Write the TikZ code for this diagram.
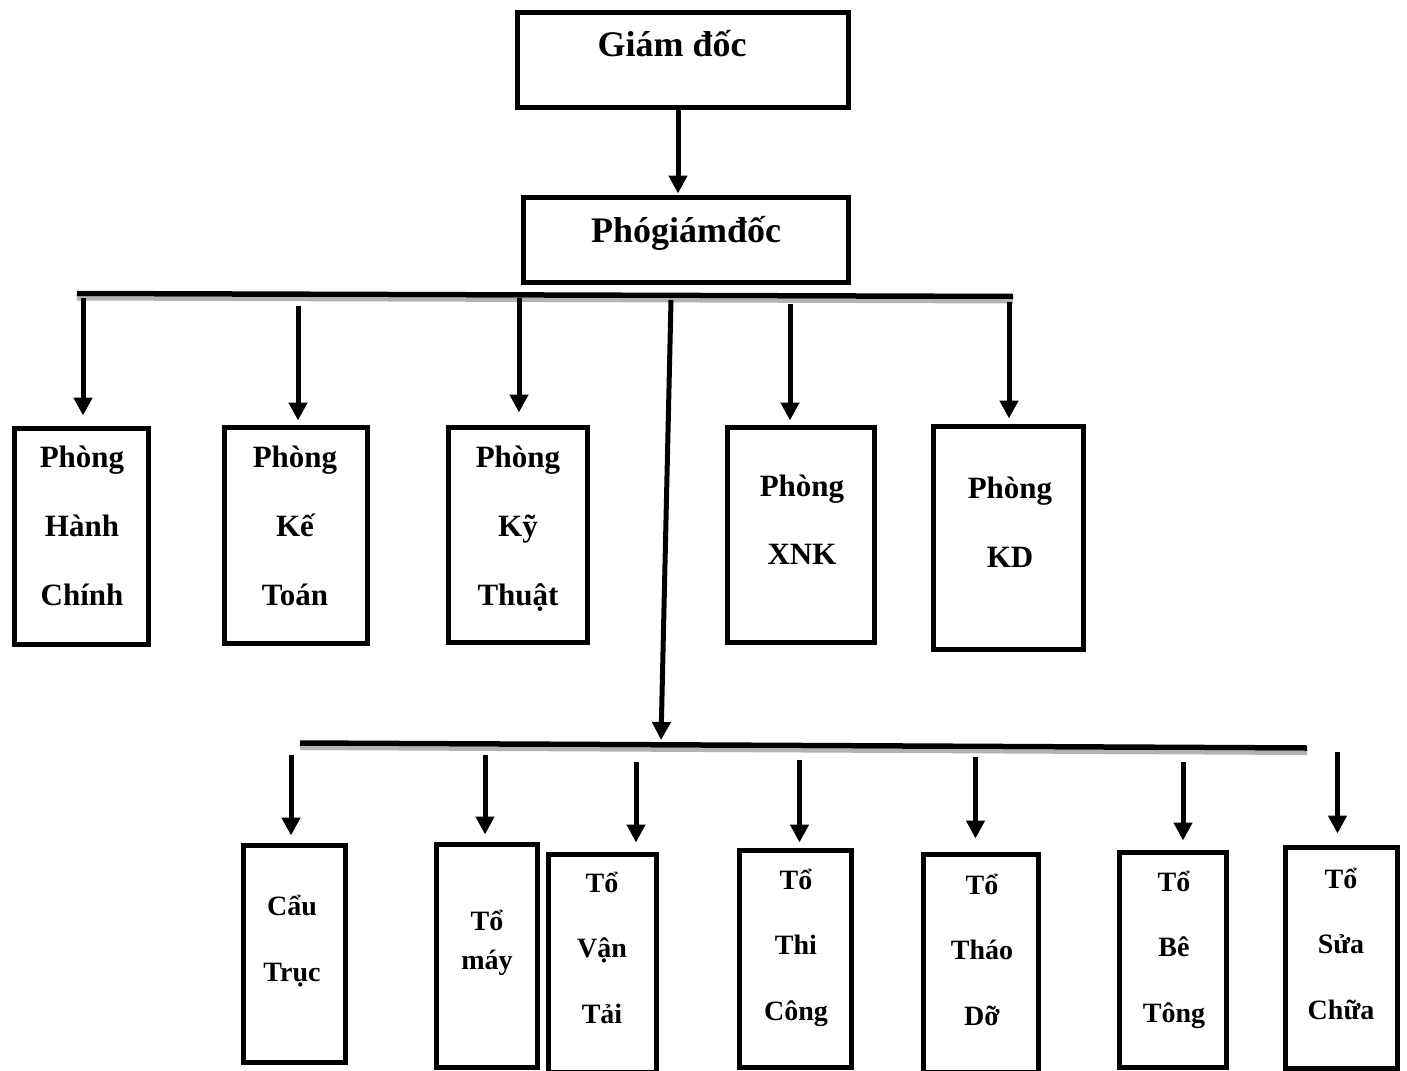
\documentclass[tikz,border=0pt]{standalone}
\usepackage{fontspec}
\setmainfont{Liberation Serif}
\usetikzlibrary{arrows.meta}
\begin{document}
\begin{tikzpicture}[x=1pt,y=-1pt,
  box/.style={draw,line width=5.5pt,inner sep=0pt,outer sep=0pt},
  bus/.style={line width=5.5pt},
  busshadow/.style={line width=4pt,black!30},
  arr/.style={line width=5pt,-{Triangle[width=18pt,length=18pt]}},
  big/.style={font=\bfseries\fontsize{36}{40}\selectfont,inner sep=0pt,anchor=base},
  dept/.style={font=\bfseries\fontsize{31}{69}\selectfont,align=center,inner sep=0pt,anchor=base},
  team/.style={font=\bfseries\fontsize{28}{65.5}\selectfont,align=center,inner sep=0pt,anchor=base}]
\useasboundingbox (0,0) rectangle (1407,1070);
\clip (0,0) rectangle (1407,1070);
\fill[white] (0,0) rectangle (1407,1070);

% Management
\node[box,minimum width=331pt,minimum height=95pt] (gd) at (683,60) {};
\node[big] (gdt) at (672,57) {Giám đốc};
\node[box,minimum width=325pt,minimum height=85pt] (pgd) at (686,240) {};
\node[big] (pgdt) at (686,242) {Phógiámđốc};
\draw[arr,shorten >=4pt] ([xshift=-5pt]gd.south) -- ([xshift=-5pt]gd.south |- pgd.north);

% Upper distribution line
\coordinate (busL) at (77,293.5);
\coordinate (busR) at (1013,296.5);
\draw[busshadow] (77,298.5) -- (1013,301.5);
\draw[bus] (busL) -- (busR);

% Departments
\node[box,minimum width=134pt,minimum height=216pt] (b1) at (81.5,536.5) {};
\node[box,minimum width=143pt,minimum height=216pt] (b2) at (296,535.5) {};
\node[box,minimum width=139pt,minimum height=215pt] (b3) at (518,535) {};
\node[box,minimum width=147pt,minimum height=215pt] (b4) at (801,535) {};
\node[box,minimum width=150pt,minimum height=223pt] (b5) at (1008.5,538) {};

\node[dept] (b1t) at (82,605) {Phòng\\Hành\\Chính};
\node[dept] (b2t) at (295,605) {Phòng\\Kế\\Toán};
\node[dept] (b3t) at (518,605) {Phòng\\Kỹ\\Thuật};
\node[dept,font=\bfseries\fontsize{31}{68}\selectfont] (b4t) at (802,564) {Phòng\\XNK};
\node[dept,font=\bfseries\fontsize{31}{69}\selectfont] (b5t) at (1010,567) {Phòng\\KD};

\coordinate (s1) at (83,298);
\coordinate (s2) at (298,306);
\coordinate (s3) at (519,298);
\coordinate (s4) at (790,304);
\coordinate (s5) at (1009,302);
\draw[arr,shorten >=13pt] (s1) -- (s1 |- b1.north);
\draw[arr,shorten >=7pt] (s2) -- (s2 |- b2.north);
\draw[arr,shorten >=15pt] (s3) -- (s3 |- b3.north);
\draw[arr,shorten >=7pt] (s4) -- (s4 |- b4.north);
\draw[arr,shorten >=8pt] (s5) -- (s5 |- b5.north);

% Lower distribution line
\coordinate (s6) at (671,300);
\coordinate (lbusL) at (300,743);
\coordinate (lbusR) at (1307,748);
\coordinate (ltip) at (661,740);
\draw[busshadow] (300,748) -- (1307,753);
\draw[bus] (lbusL) -- (lbusR);
\draw[arr] (s6) -- (ltip);

% Teams
\node[box,minimum width=102pt,minimum height=217pt] (c1) at (294.5,954) {};
\node[box,minimum width=101pt,minimum height=223pt] (c2) at (487,956) {};
\node[box,minimum width=108pt,minimum height=218pt] (c3) at (602.5,963.5) {};
\node[box,minimum width=112pt,minimum height=217pt] (c4) at (795.5,959) {};
\node[box,minimum width=115pt,minimum height=218pt] (c5) at (981,963.5) {};
\node[box,minimum width=107pt,minimum height=215pt] (c6) at (1173,960) {};
\node[box,minimum width=112pt,minimum height=221pt] (c7) at (1341.5,958) {};

\node[team,font=\bfseries\fontsize{28}{66}\selectfont] (c1t) at (292,981) {Cẩu\\Trục};
\node[team,font=\bfseries\fontsize{28}{39}\selectfont] (c2t) at (487,969) {Tổ\\máy};
\node[team] (c3t) at (602,1023) {Tổ\\Vận\\Tải};
\node[team] (c4t) at (796,1020) {Tổ\\Thi\\Công};
\node[team] (c5t) at (982,1025) {Tổ\\Tháo\\Dỡ};
\node[team] (c6t) at (1174,1022) {Tổ\\Bê\\Tông};
\node[team] (c7t) at (1341,1019) {Tổ\\Sửa\\Chữa};

\coordinate (t1) at (291,755);
\coordinate (t2) at (485,755);
\coordinate (t3) at (636,762);
\coordinate (t4) at (799.5,760);
\coordinate (t5) at (975.5,757);
\coordinate (t6) at (1183,762);
\coordinate (t7) at (1337.5,752);
\draw[arr,shorten >=10pt] (t1) -- (t1 |- c1.north);
\draw[arr,shorten >=10pt] (t2) -- (t2 |- c2.north);
\draw[arr,shorten >=12pt] (t3) -- (t3 |- c3.north);
\draw[arr,shorten >=8pt] (t4) -- (t4 |- c4.north);
\draw[arr,shorten >=16pt] (t5) -- (t5 |- c5.north);
\draw[arr,shorten >=12pt] (t6) -- (t6 |- c6.north);
\draw[arr,shorten >=14pt] (t7) -- (t7 |- c7.north);
\end{tikzpicture}
\end{document}
